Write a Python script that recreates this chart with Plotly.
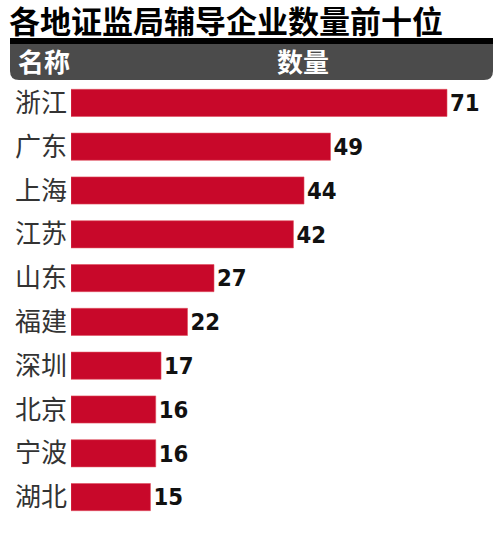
import plotly.graph_objects as go

# data
regions = ["浙江", "广东", "上海", "江苏", "山东", "福建", "深圳", "北京", "宁波", "湖北"]
counts = [71, 49, 44, 42, 27, 22, 17, 16, 16, 15]
title_text = "各地证监局辅导企业数量前十位"
header_labels = ["名称", "数量"]

W, H = 500, 533
M_L, M_R, M_T, M_B = 71, 0, 81, 14
PLOT_W = W - M_L - M_R
PLOT_H = H - M_T - M_B


def py(p):
    """pixel row -> paper y"""
    return (H - M_B - p) / PLOT_H


def px(p):
    """pixel column -> paper x"""
    return (p - M_L) / PLOT_W


fig = go.Figure(
    go.Bar(
        x=counts,
        y=regions,
        orientation="h",
        width=0.62,
        marker=dict(color="#c8082a", line=dict(color="#e0505f", width=0.6)),
        text=[str(c) for c in counts],
        textposition="outside",
        cliponaxis=False,
        textfont=dict(family="DejaVu Sans Condensed", size=27, color="#111111"),
        texttemplate="<b>%{text}</b>",
    )
)

# header band, rounded bottom corners
x0, x1 = px(10), px(493)
yt, yb = py(44), py(80)
r_x = 9 / PLOT_W
r_y = 9 / PLOT_H
band_path = (
    f"M {x0},{yt} L {x1},{yt} L {x1},{yb + r_y} "
    f"Q {x1},{yb} {x1 - r_x},{yb} L {x0 + r_x},{yb} "
    f"Q {x0},{yb} {x0},{yb + r_y} Z"
)
fig.add_shape(type="path", path=band_path, xref="paper", yref="paper",
              fillcolor="#4b4b4b", line=dict(width=0), layer="below")
fig.add_shape(type="rect", xref="paper", yref="paper", x0=x0, x1=x1, y0=py(44), y1=py(38),
              fillcolor="#000000", line=dict(width=0))

fig.add_annotation(text=f"<b>{title_text}</b>", xref="paper", yref="paper",
                   x=px(7), y=py(19.5), xanchor="left", yanchor="middle", showarrow=False,
                   font=dict(family="Noto Sans CJK SC", size=31, color="#000000"))
fig.add_annotation(text=f"<b>{header_labels[0]}</b>", xref="paper", yref="paper",
                   x=px(16), y=py(61), xanchor="left", yanchor="middle", showarrow=False,
                   font=dict(family="Noto Sans CJK SC", size=26, color="#ffffff"))
fig.add_annotation(text=f"<b>{header_labels[1]}</b>", xref="paper", yref="paper",
                   x=px(275), y=py(61), xanchor="left", yanchor="middle", showarrow=False,
                   font=dict(family="Noto Sans CJK SC", size=26, color="#ffffff"))

fig.update_layout(
    width=W,
    height=H,
    margin=dict(l=M_L, r=M_R, t=M_T, b=M_B, autoexpand=False),
    plot_bgcolor="white",
    paper_bgcolor="white",
    showlegend=False,
)
fig.update_xaxes(range=[0, 71 * PLOT_W / 376], visible=False, automargin=False)
fig.update_yaxes(
    autorange="reversed",
    automargin=False,
    showgrid=False,
    showline=False,
    ticks="",
    ticklabelstandoff=3,
    tickfont=dict(family="Noto Sans CJK SC", size=26, color="#333333"),
)

# page body has a default 8px margin; drop it so the figure sits at the corner
fig.write_html(
    "out.html",
    config={"displayModeBar": False},
    post_script="document.body.style.margin='0';",
)
